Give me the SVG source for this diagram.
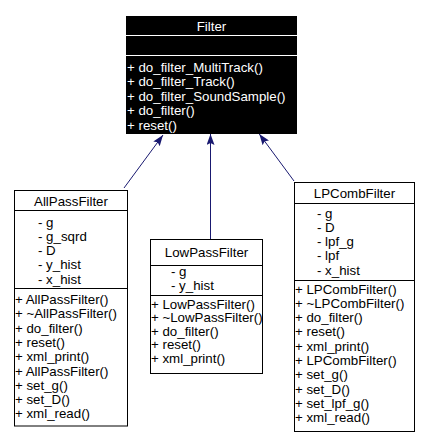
<svg xmlns="http://www.w3.org/2000/svg" width="428" height="446" viewBox="0 0 428 446">
<style>
text{font-family:"Liberation Sans",Arial,Helvetica,sans-serif;font-size:13.3px;fill:#000}
.w{fill:#fff}
.c{text-anchor:middle}
.box{fill:#fff;stroke:#000;stroke-width:1}
.dk{fill:#000;stroke:#000;stroke-width:1}
.div{stroke:#000;stroke-width:1}
.wdiv{stroke:#fff;stroke-width:1}
.edge{stroke:#191970;stroke-width:1;fill:none}
</style>
<defs>
<marker id="arr" viewBox="0 0 11 8" refX="11" refY="4" markerWidth="11" markerHeight="8" markerUnits="userSpaceOnUse" orient="auto">
<path d="M0,0 L11,4 L0,8 L2,4 z" fill="#191970"/>
</marker>
</defs>
<rect width="428" height="446" fill="#fff"/>
<g id="connectors">
<line class="edge" x1="124" y1="188" x2="163" y2="135" marker-end="url(#arr)"/>
<line class="edge" x1="210.5" y1="239" x2="210.5" y2="134" marker-end="url(#arr)"/>
<line class="edge" x1="294" y1="181" x2="259.3" y2="134" marker-end="url(#arr)"/>
</g>
<g id="Filter">
<rect class="dk" x="126.5" y="16.5" width="170" height="117"/>
<line class="wdiv" x1="126" y1="35.5" x2="297" y2="35.5"/>
<line class="wdiv" x1="126" y1="55.5" x2="297" y2="55.5"/>
<text class="w c" x="211.5" y="30.5">Filter</text>
<text class="w" x="127" y="71.5">+ do_filter_MultiTrack()</text>
<text class="w" x="127" y="86">+ do_filter_Track()</text>
<text class="w" x="127" y="100.5">+ do_filter_SoundSample()</text>
<text class="w" x="127" y="115">+ do_filter()</text>
<text class="w" x="127" y="129.5">+ reset()</text>
</g>
<g id="AllPassFilter">
<rect class="box" x="14.5" y="190.5" width="113" height="235.5"/>
<line class="div" x1="14" y1="210.5" x2="128" y2="210.5"/>
<line class="div" x1="14" y1="288.5" x2="128" y2="288.5"/>
<text class="c" x="71" y="206">AllPassFilter</text>
<text x="38" y="226.5">- g</text>
<text x="38" y="240.8">- g_sqrd</text>
<text x="38" y="255.1">- D</text>
<text x="38" y="269.4">- y_hist</text>
<text x="38" y="283.7">- x_hist</text>
<text x="15" y="304">+ AllPassFilter()</text>
<text x="15" y="318.3">+ ~AllPassFilter()</text>
<text x="15" y="332.6">+ do_filter()</text>
<text x="15" y="346.9">+ reset()</text>
<text x="15" y="361.2">+ xml_print()</text>
<text x="15" y="375.5">+ AllPassFilter()</text>
<text x="15" y="389.8">+ set_g()</text>
<text x="15" y="404.1">+ set_D()</text>
<text x="15" y="418.4">+ xml_read()</text>
</g>
<g id="LowPassFilter">
<rect class="box" x="150.5" y="239.5" width="112" height="134"/>
<line class="div" x1="150" y1="265.5" x2="263" y2="265.5"/>
<line class="div" x1="150" y1="295.5" x2="263" y2="295.5"/>
<text class="c" x="206.5" y="257">LowPassFilter</text>
<text x="171" y="276">- g</text>
<text x="171" y="289.5">- y_hist</text>
<text x="151" y="308.5">+ LowPassFilter()</text>
<text x="151" y="322">+ ~LowPassFilter()</text>
<text x="151" y="335.5">+ do_filter()</text>
<text x="151" y="349">+ reset()</text>
<text x="151" y="362.5">+ xml_print()</text>
</g>
<g id="LPCombFilter">
<rect class="box" x="294.5" y="182.5" width="120" height="249"/>
<line class="div" x1="294" y1="203.5" x2="415" y2="203.5"/>
<line class="div" x1="294" y1="280.5" x2="415" y2="280.5"/>
<text class="c" x="354.5" y="197.5">LPCombFilter</text>
<text x="317" y="217.5">- g</text>
<text x="317" y="231.8">- D</text>
<text x="317" y="246.1">- lpf_g</text>
<text x="317" y="260.4">- lpf</text>
<text x="317" y="274.7">- x_hist</text>
<text x="295" y="293.5">+ LPCombFilter()</text>
<text x="295" y="307.8">+ ~LPCombFilter()</text>
<text x="295" y="322.1">+ do_filter()</text>
<text x="295" y="336.4">+ reset()</text>
<text x="295" y="350.7">+ xml_print()</text>
<text x="295" y="365">+ LPCombFilter()</text>
<text x="295" y="379.3">+ set_g()</text>
<text x="295" y="393.6">+ set_D()</text>
<text x="295" y="407.9">+ set_lpf_g()</text>
<text x="295" y="422.2">+ xml_read()</text>
</g>
</svg>
